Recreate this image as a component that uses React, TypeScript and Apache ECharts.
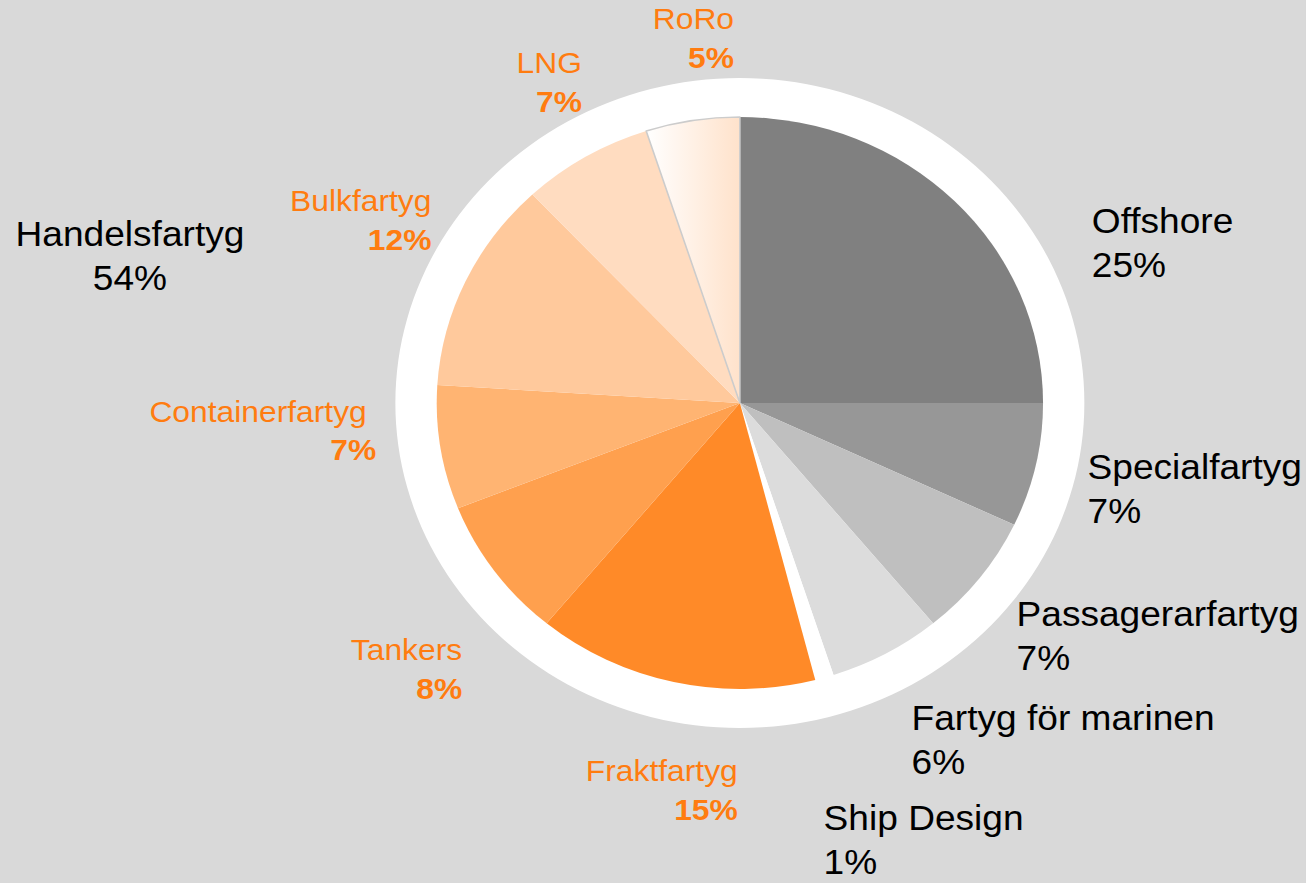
import React, { useEffect, useRef } from "react";
import * as echarts from "echarts";

// ---- data ----
const categories = [
  "Offshore",
  "Specialfartyg",
  "Passagerarfartyg",
  "Fartyg för marinen",
  "Ship Design",
  "Fraktfartyg",
  "Tankers",
  "Containerfartyg",
  "Bulkfartyg",
  "LNG",
  "RoRo",
];
const shares = [25, 7, 7, 6, 1, 15, 8, 7, 12, 7, 5];
const groupLabel = "Handelsfartyg";
const groupMembers = ["Fraktfartyg", "Tankers", "Containerfartyg", "Bulkfartyg", "LNG", "RoRo"];

// ---- styling / layout ----
const W = 1306;
const H = 883;
const STRETCH = 1.06; // the reference is horizontally stretched
const CX = 698;
const CY = 403;
const R = 286;
const RING = 325;
const FONT = '"Liberation Sans", Arial, Helvetica, sans-serif';
const ORANGE = "#ff7c10";

const SLICE_COLORS: any[] = [
  "#808080",
  "#979797",
  "#bfbfbf",
  "#dcdcdc",
  "#ffffff",
  "#ff8a28",
  "#ffa04e",
  "#ffb472",
  "#ffc99c",
  "#ffdcc0",
  null, // gradient (RoRo)
];

// label anchor positions (unstretched px): x, y(center), align
const LABEL_POS: [number, number, "left" | "right"][] = [
  [1030, 242.5, "left"],
  [1026, 489, "left"],
  [959, 635.7, "left"],
  [860, 739.4, "left"],
  [777, 840, "left"],
  [696, 790, "right"],
  [436, 669, "right"],
  [355, 430.8, "right"],
  [407, 220, "right"],
  [549, 82.5, "right"],
  [692.5, 37.9, "right"],
];

export default function App() {
  const ref = useRef<HTMLDivElement>(null);

  useEffect(() => {
    document.body.style.margin = "0";
    document.body.style.background = "#d9d9d9";
    if (!ref.current) return;
    const chart = echarts.init(ref.current, undefined, { renderer: "svg" });

    const total = shares.reduce((a, b) => a + b, 0);
    const groupPct = Math.round(
      (categories.reduce((s, c, i) => s + (groupMembers.includes(c) ? shares[i] : 0), 0) / total) * 100
    );

    const data = categories.map((name, i) => {
      const color =
        SLICE_COLORS[i] ??
        new echarts.graphic.LinearGradient(0, 0, 1, 0, [
          { offset: 0, color: "#ffffff" },
          { offset: 1, color: "#ffe2cb" },
        ]);
      const item: any = { name, value: shares[i], itemStyle: { color } };
      if (SLICE_COLORS[i] == null) {
        item.itemStyle.borderColor = "#cccccc";
        item.itemStyle.borderWidth = 1.5;
      }
      return item;
    });

    chart.setOption({
      animation: false,
      backgroundColor: "#d9d9d9",
      textStyle: { fontFamily: FONT },
      graphic: [
        {
          type: "text",
          x: 122.6,
          y: 255.4,
          style: {
            text: `${groupLabel}\n${groupPct}%`,
            font: `35px ${FONT}`,
            fill: "#000000",
            align: "center",
            verticalAlign: "middle",
            lineHeight: 44,
          },
        },
      ],
      series: [
        {
          type: "pie",
          silent: true,
          z: 1,
          center: [CX, CY],
          radius: RING,
          label: { show: false },
          labelLine: { show: false },
          data: [{ value: 1, itemStyle: { color: "#ffffff" } }],
        },
        {
          type: "pie",
          z: 2,
          center: [CX, CY],
          radius: R,
          startAngle: 90,
          clockwise: true,
          avoidLabelOverlap: false,
          labelLine: { show: false },
          label: {
            show: true,
            position: "outside",
            fontFamily: FONT,
            formatter: (p: any) => {
              const pct = Math.round(p.percent) + "%";
              if (groupMembers.includes(p.name)) {
                const nStyle = p.name === "Containerfartyg" ? "onp" : "on";
                return `{${nStyle}|${p.name}}\n{op|${pct}}`;
              }
              return `{bn|${p.name}}\n{bp|${pct}}`;
            },
            rich: {
              bn: { fontFamily: FONT, fontSize: 35, lineHeight: 44, color: "#000000", align: "left" },
              bp: { fontFamily: FONT, fontSize: 35, lineHeight: 44, color: "#000000", align: "left" },
              on: { fontFamily: FONT, fontSize: 30, lineHeight: 39, color: ORANGE, align: "right" },
              onp: {
                fontFamily: FONT,
                fontSize: 30,
                lineHeight: 39,
                color: ORANGE,
                align: "right",
                padding: [0, 9, 0, 0],
              },
              op: {
                fontFamily: FONT,
                fontSize: 30,
                lineHeight: 39,
                color: ORANGE,
                fontWeight: "bold",
                align: "right",
              },
            },
          },
          labelLayout: (params: any) => {
            const pos = LABEL_POS[params.dataIndex];
            return { x: pos[0], y: pos[1], align: pos[2], verticalAlign: "middle" };
          },
          data,
        },
      ],
    });

    return () => chart.dispose();
  }, []);

  return (
    <div
      ref={ref}
      style={{
        position: "absolute",
        left: 0,
        top: 0,
        width: W / STRETCH,
        height: H,
        transform: `scaleX(${STRETCH})`,
        transformOrigin: "0 0",
      }}
    />
  );
}
